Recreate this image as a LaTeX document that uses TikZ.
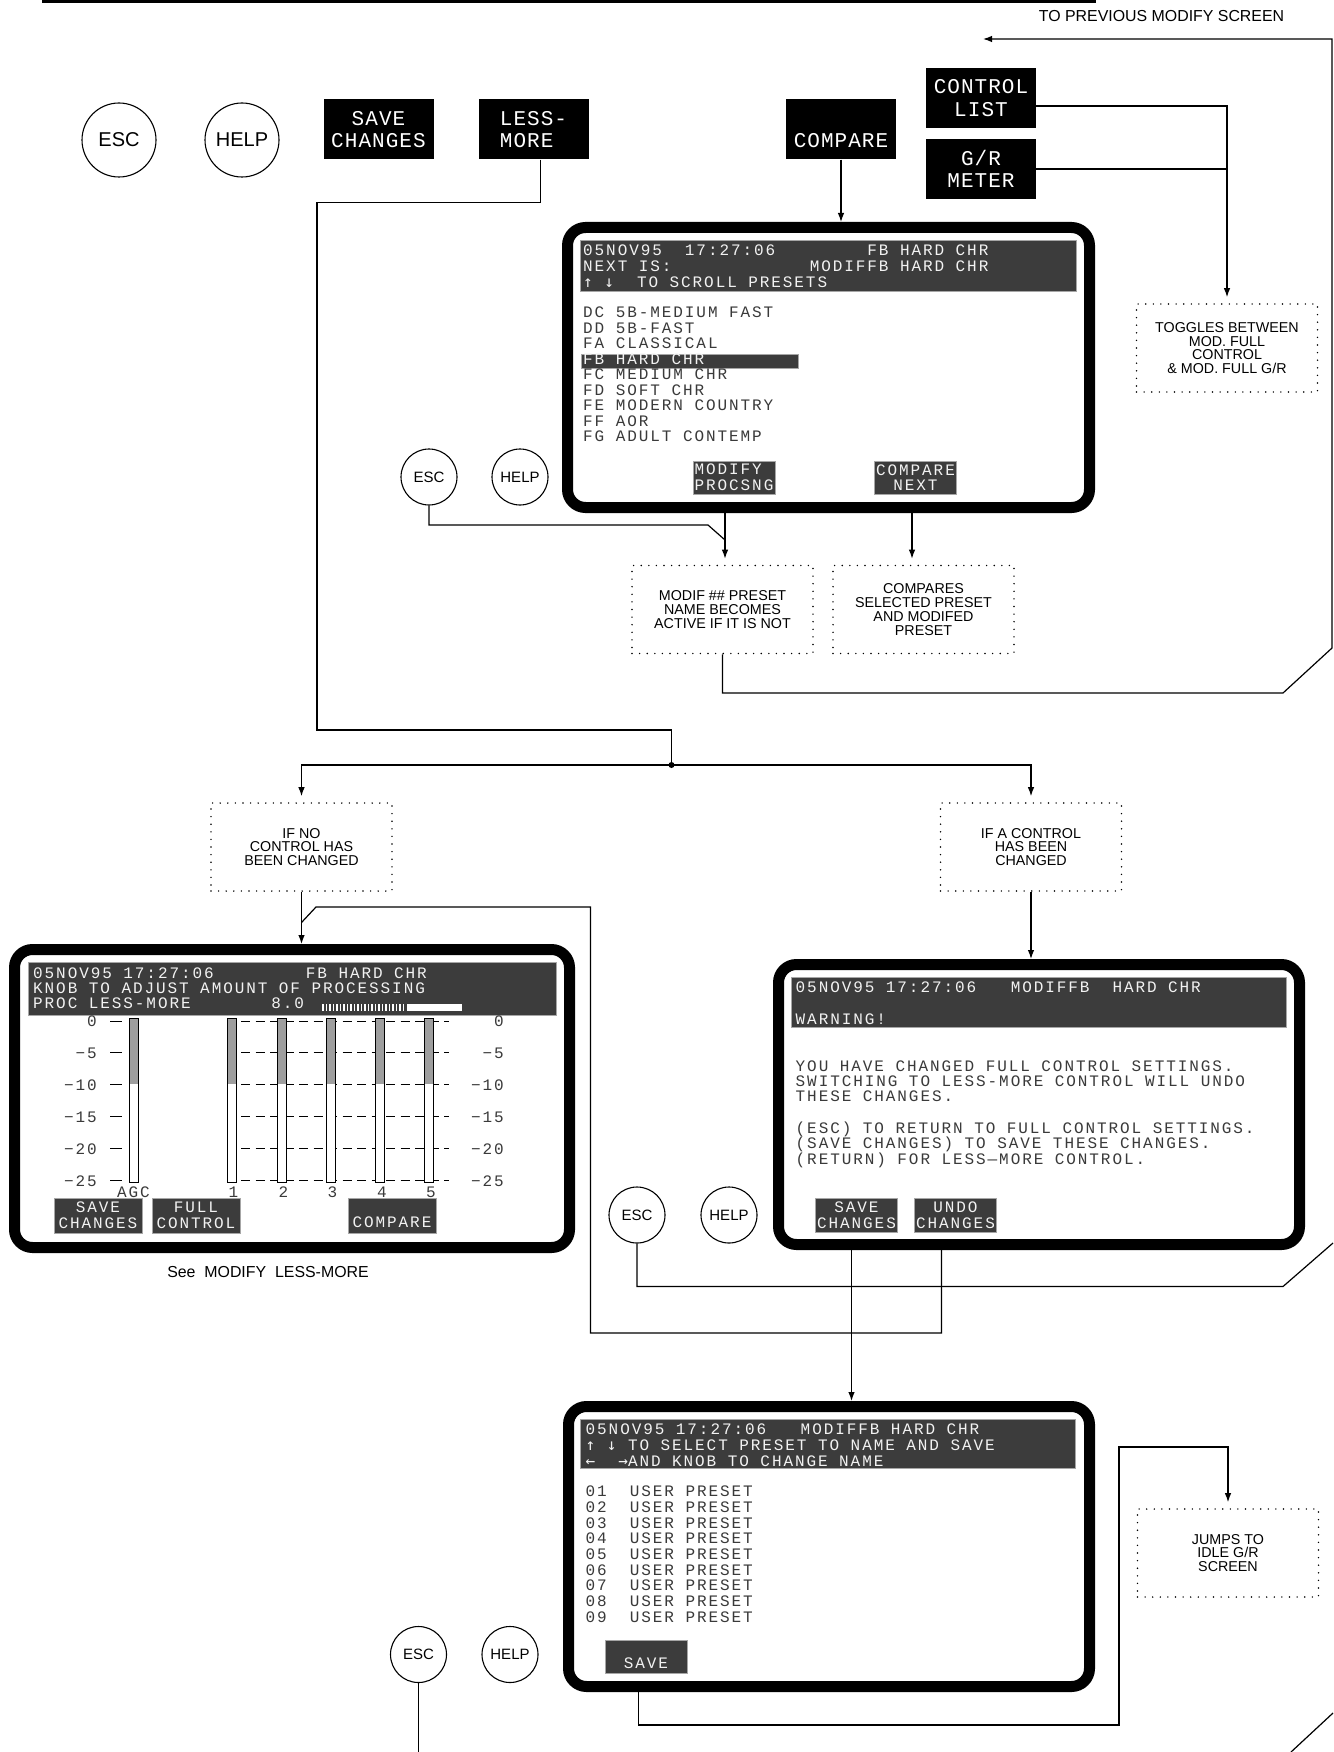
\documentclass[tikz,border=0pt]{standalone}
\usepackage{fontspec}
\setmainfont{Liberation Sans}
\newfontfamily\lcdfont{Liberation Mono}[LetterSpace=12]
\newfontfamily\keyfont{Liberation Mono}[LetterSpace=5]
\newfontfamily\arrowglyphs{DejaVu Sans Mono}
\usepackage{xcolor}
\usepackage{tikz}
\usetikzlibrary{arrows.meta, positioning, calc}

\definecolor{lcdband}{HTML}{3C3C3C}
\definecolor{lcdink}{HTML}{3A3A3A}
\definecolor{meterfill}{HTML}{9E9E9E}

\newcommand{\kup}{{\arrowglyphs ↑}}
\newcommand{\kdown}{{\arrowglyphs ↓}}
\newcommand{\kleft}{{\arrowglyphs ←}}
\newcommand{\kright}{{\arrowglyphs →}}
\newcommand{\lowline}[2]{\raisebox{-#1pt}[0pt][0pt]{#2}}

\begin{document}
\begin{tikzpicture}[
        x=1pt, y=-1pt,
        wire/.style = {line width=1.2pt},
        arrow/.style = {wire, -{Latex[length=9pt,width=6.5pt]}},
        roundkey/.style = {circle, draw, line width=1.1pt, minimum size=74pt, inner sep=0pt, font=\fontsize{20}{20}\selectfont},
        smallkey/.style = {circle, draw, line width=1.1pt, minimum size=56pt, inner sep=0pt, font=\fontsize{15}{15}\selectfont},
        hardkey/.style = {rectangle, fill=black, text=white, minimum width=110pt, minimum height=60pt, inner sep=0pt, align=center, font=\keyfont\fontsize{21}{22.5}\selectfont},
        softkey/.style = {rectangle, fill=lcdband, draw=gray!70, line width=0.8pt, text=gray!10, minimum width=82pt, minimum height=33pt, inner sep=0pt, align=center, font=\lcdfont\fontsize{16}{15.6}\selectfont},
        screen/.style = {rectangle, draw=black, line width=11pt, rounded corners=18pt, fill=white, inner sep=0pt, minimum width=522pt, minimum height=280pt},
        band/.style = {fill=lcdband, draw=gray!70, line width=0.8pt},
        lcd/.style = {anchor=base west, inner sep=0pt, text=lcdink, font=\lcdfont\fontsize{16}{15.6}\selectfont},
        lcdhead/.style = {lcd, text=gray!10},
        notebox/.style = {rectangle, draw, line width=1.6pt, line cap=round, dash pattern=on 0pt off 7.6pt, minimum width=181pt, minimum height=88pt, inner sep=0pt, align=center, font=\fontsize{14.3}{13.8}\selectfont},
        caption/.style = {inner sep=0pt, font=\fontsize{15.9}{16}\selectfont}
    ]
    \useasboundingbox (0,0) rectangle (1333,1752);

    % --- page head ---
    \draw[line width=3.5pt] (42,1.75) -- (1096,1.75);
    \node[caption] (prevlabel) at (1161.5,16) {TO PREVIOUS MODIFY SCREEN};
    \coordinate (prevtip) at (983,39);

    % --- front panel keys ---
    \node[roundkey] (esckey) at (119,140) {ESC};
    \node[roundkey] (helpkey) at (242,140) {HELP};
    \node[hardkey] (savekey) at (378.5,129.5) {SAVE\\CHANGES};
    \node[hardkey, align=left] (lesskey) at (533.5,129.5) {LESS-\\MORE};
    \node[hardkey] (cmpkey) at (841,129.5) {\lowline{18.5}{COMPARE}};
    \node[hardkey] (listkey) at (981,98) {CONTROL\\LIST};
    \node[hardkey] (meterkey) at (981,169) {G/R\\METER};

    \node[notebox] (togglenote) at (1227,348) {TOGGLES BETWEEN\\MOD. FULL\\CONTROL\\\& MOD. FULL G/R};

    % --- screen A : preset list ---
    \node[screen] (scrA) at (828.5,367.5) {};
    \path[band] (580,240) rectangle (1076,291);
    \node[lcdhead] at (583,255.5) {05NOV95~~17:27:06~~~~~~~~FB~HARD~CHR};
    \node[lcdhead] at (583,271.5) {NEXT~IS:~~~~~~~~~~~~MODIFFB~HARD~CHR};
    \node[lcdhead] at (583,287.5) {\kup~\kdown~~TO~SCROLL~PRESETS};
    \path[band] (581,354) rectangle (798,368);
    \foreach \entry/\ink [count=\i] in {DC~5B-MEDIUM~FAST/lcdink, DD~5B-FAST/lcdink, FA~CLASSICAL/lcdink, FB~HARD~CHR/gray!10, FC~MEDIUM~CHR/lcdink, FD~SOFT~CHR/lcdink, FE~MODERN~COUNTRY/lcdink, FF~AOR/lcdink, FG~ADULT~CONTEMP/lcdink}
        \node[lcd, text=\ink] at (583,{302+15.55*\i}) {\entry};
    \node[softkey, align=left] (modkey) at (734,477.5) {MODIFY\\PROCSNG};
    \node[softkey] (nextkey) at (915.5,477.5) {COMPARE\\NEXT};
    \node[smallkey] (escA) at (429,477) {ESC};
    \node[smallkey] (helpA) at (520,477) {HELP};

    \node[notebox] (modnote) at (722.5,609.5) {MODIF \#\# PRESET\\NAME BECOMES\\ACTIVE IF IT IS NOT};
    \node[notebox] (cmpnote) at (923.5,609.5) {COMPARES\\SELECTED PRESET\\AND MODIFED\\PRESET};

    % --- branch notes ---
    \node[notebox] (nonote) at (301.5,847) {IF NO\\CONTROL HAS\\BEEN CHANGED};
    \node[notebox] (yesnote) at (1031,847) {IF A CONTROL\\HAS BEEN\\CHANGED};

    % --- screen B : less-more ---
    \node[screen, minimum width=555pt, minimum height=298pt] (scrB) at (292,1098.5) {};
    \path[band] (28,962) rectangle (556,1015);
    \node[lcdhead] at (33,978.5) {05NOV95~17:27:06~~~~~~~~FB~HARD~CHR};
    \node[lcdhead] at (33,993.5) {KNOB~TO~ADJUST~AMOUNT~OF~PROCESSING};
    \node[lcdhead] at (33,1008.5) {PROC~LESS-MORE~~~~~~~8.0};
    \foreach \sx in {323,326.5,...,406}
        \draw[white, line width=1.2pt] (\sx,1004) -- (\sx,1011);
    \fill[white] (407,1004) rectangle (462,1011);
    \foreach \lv [count=\i from 0] in {0,−5,−10,−15,−20,−25} {
        \node[lcd, anchor=base east] at (97,{1026.5+31.9*\i}) {\lv};
        \node[lcd, anchor=base east] at (504,{1026.5+31.9*\i}) {\lv};
        \draw[line width=1pt] (110,{1021+31.9*\i}) -- (122,{1021+31.9*\i});
        \draw[line width=1pt, dash pattern=on 9pt off 5.5pt] (241,{1021+31.9*\i}) -- (449,{1021+31.9*\i});
    }
    \foreach \bx in {133.5,231.5,281.5,330.5,380,429} {
        \fill[white] ({\bx-4.5},1018) rectangle ({\bx+4.5},1182);
        \fill[meterfill] ({\bx-4.5},1018) rectangle ({\bx+4.5},1084);
        \draw[line width=1pt] ({\bx-4.5},1018) rectangle ({\bx+4.5},1182);
    }
    \node[lcd, anchor=base] at (133.5,1197) {AGC};
    \foreach \n/\bx in {1/231.5, 2/281.5, 3/330.5, 4/380, 5/429}
        \node[lcd, anchor=base] at ({\bx+2},1197) {\n};
    \node[softkey, minimum width=88pt, minimum height=35pt] (saveB) at (98,1215.5) {SAVE\\CHANGES};
    \node[softkey, minimum width=88pt, minimum height=35pt] (fullB) at (196,1215.5) {FULL\\CONTROL};
    \node[softkey, minimum width=88pt, minimum height=35pt] (cmpB) at (392,1215.5) {\lowline{11.8}{COMPARE}};
    \node[caption] (seenote) at (268,1272) {See\ \ MODIFY\ \ LESS-MORE};

    % --- screen C : warning ---
    \node[screen, minimum width=521pt] (scrC) at (1039,1104.5) {};
    \path[band] (791,977) rectangle (1286,1027);
    \node[lcdhead] at (795.5,992.5) {05NOV95~17:27:06~~~MODIFFB~~HARD~CHR};
    \node[lcdhead] at (795.5,1024.5) {WARNING!};
    \foreach \yy/\txt in {1071/YOU~HAVE~CHANGED~FULL~CONTROL~SETTINGS., 1086.5/SWITCHING~TO~LESS-MORE~CONTROL~WILL~UNDO, 1101.5/THESE~CHANGES., 1133/(ESC)~TO~RETURN~TO~FULL~CONTROL~SETTINGS., 1148.5/(SAVE~CHANGES)~TO~SAVE~THESE~CHANGES., 1164.5/(RETURN)~FOR~LESS—MORE~CONTROL.}
        \node[lcd] at (795.5,\yy) {\txt};
    \node[softkey, minimum height=34pt] (saveC) at (856.5,1215) {SAVE\\CHANGES};
    \node[softkey, minimum height=34pt] (undoC) at (955.5,1215) {UNDO\\CHANGES};
    \node[smallkey] (escC) at (637,1215) {ESC};
    \node[smallkey] (helpC) at (729,1215) {HELP};

    % --- screen D : save preset ---
    \node[screen, minimum width=521pt] (scrD) at (829,1546.5) {};
    \path[band] (580,1419) rectangle (1075,1468);
    \node[lcdhead] at (585.5,1434.5) {05NOV95~17:27:06~~~MODIFFB~HARD~CHR};
    \node[lcdhead] at (585.5,1450.5) {\kup~\kdown~TO~SELECT~PRESET~TO~NAME~AND~SAVE};
    \node[lcdhead] at (585.5,1466) {\kleft~~\kright AND~KNOB~TO~CHANGE~NAME};
    \foreach \n in {1,...,9}
        \node[lcd] at (585.5,{1481+15.7*\n}) {0\n~~USER~PRESET};
    \node[softkey, minimum height=33pt] (saveD) at (646,1657) {\lowline{11.3}{SAVE}};
    \node[smallkey] (escD) at (418.5,1654.5) {ESC};
    \node[smallkey] (helpD) at (510,1654.5) {HELP};

    \node[notebox] (jumpnote) at (1228,1553) {JUMPS TO\\IDLE G/R\\SCREEN};

    % --- connector ends ---
    \coordinate (modout) at (725,513);
    \coordinate (modjoin) at (725,540);
    \coordinate (nextout) at (912,513);
    \coordinate (junc) at (671.5,765);
    \coordinate (nojoin) at (301.5,922.5);
    \coordinate (saveout) at (851.5,1250);
    \coordinate (undoout) at (941.5,1250);
    \coordinate (jumpout) at (638.5,1692);
    \coordinate (offesc) at (1333,1243);
    \coordinate (pagefoot) at (0,1752);
    \coordinate (offfootA) at (1291,1752);
    \coordinate (offfootB) at (1333,1713);

    % --- connectors ---
    \draw[arrow] (cmpkey.south) -- (cmpkey.south |- scrA.north);
    \draw[arrow, shorten >=6pt] ([yshift=-8pt]listkey.east) -| (togglenote.north);
    \draw[wire] (meterkey.east) -- (meterkey.east -| togglenote.north);

    \draw[arrow, shorten >=6pt] (modout) -- (modout |- modnote.north);
    \draw[wire] (escA.south) |- (708,525) -- (modjoin);
    \draw[arrow, shorten >=6pt] (nextout) -- (nextout |- cmpnote.north);
    \draw[arrow] (modnote.south) |- (1283,693) -- (1332,648) -- (1332,39) -- (prevtip);

    \draw[wire] ([xshift=7pt]lesskey.south) -- ++(0,43) -| (317,730) -| (junc);
    \fill (junc) circle (3);
    \draw[arrow, shorten >=6pt] (junc) -| (nonote.north);
    \draw[arrow, shorten >=6pt] (junc) -| (yesnote.north);

    \draw[arrow] (nonote.south) -- (nonote.south |- scrB.north);
    \draw[wire] (undoout) |- (590.5,1333) |- (316,907) -- (nojoin);
    \draw[arrow] (yesnote.south) -- (yesnote.south |- scrC.north);

    \draw[wire] (escC.south) |- (1283,1286.5) -- (offesc);
    \draw[arrow] (saveout) -- (saveout |- scrD.north);

    \draw[arrow, shorten >=6pt] (jumpout) |- (1119,1725) -- (1119,1447) -| (jumpnote.north);
    \draw[wire] (escD.south) -- (escD.south |- pagefoot);
    \draw[wire] (offfootA) -- (offfootB);

\end{tikzpicture}
\end{document}
